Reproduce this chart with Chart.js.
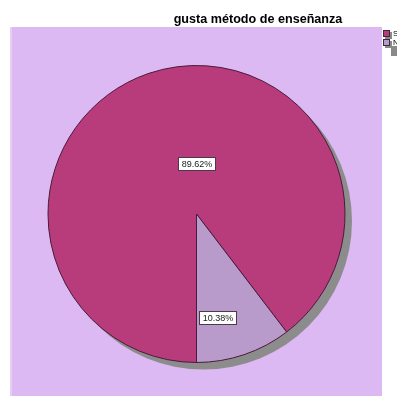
<!DOCTYPE html>
<html>
<head>
<meta charset="utf-8">
<script src="https://cdn.jsdelivr.net/npm/chart.js@4"></script>
<style>
  html, body { margin: 0; padding: 0; background: #ffffff; }
  #wrap { position: relative; width: 397px; height: 396px; overflow: hidden; }
  canvas { display: block; }
</style>
</head>
<body>
<div id="wrap"><canvas id="c" width="397" height="396"></canvas></div>
<script>
// Answers to "gusta método de enseñanza"
const categories = ['Si', 'No'];
const percentages = [89.62, 10.38];
const sliceColors = ['#b83c7b', '#b99bcb'];
const chartTitle = 'gusta método de enseñanza';

// Where each percentage box sits inside its slice:
// fraction of the slice's sweep, and fraction of the radius.
const labelAnchors = [
  { sweep: 0.558, radius: 0.34 },
  { sweep: 0.695, radius: 0.71 }
];

const FONT = '"Liberation Sans", Arial, sans-serif';

// Lilac panel, title and the small legend at the right edge
const framePlugin = {
  id: 'frame',
  beforeDraw(chart) {
    const ctx = chart.ctx;
    ctx.save();
    ctx.fillStyle = '#ffffff';
    ctx.fillRect(0, 0, chart.width, chart.height);
    ctx.fillStyle = '#dcb9f2';
    ctx.fillRect(10, 27, 372, chart.height - 27);
    ctx.fillStyle = '#e6cdf6';
    ctx.fillRect(10, 27, 2, chart.height - 27);

    // title
    ctx.fillStyle = '#000000';
    ctx.font = 'bold 12.6px ' + FONT;
    ctx.textAlign = 'center';
    ctx.textBaseline = 'alphabetic';
    ctx.fillText(chartTitle, 258, 23);

    // legend (runs off the right edge)
    const lx = 383, ly = 30, sz = 7;
    ctx.fillStyle = '#8a8a8a';
    ctx.fillRect(lx + 8, ly + 16, 8, 10);
    categories.forEach((name, i) => {
      const y = ly + i * 9;
      ctx.fillStyle = '#8a8a8a';
      ctx.fillRect(lx + 2, y + 2, sz, sz);
      ctx.fillStyle = sliceColors[i];
      ctx.fillRect(lx, y, sz, sz);
      ctx.strokeStyle = '#3a2a3a';
      ctx.lineWidth = 1;
      ctx.strokeRect(lx + 0.5, y + 0.5, sz - 1, sz - 1);
      ctx.fillStyle = '#000000';
      ctx.font = '8px ' + FONT;
      ctx.textAlign = 'left';
      ctx.textBaseline = 'middle';
      ctx.fillText(name, lx + sz + 3, y + sz / 2);
    });
    ctx.restore();
  },
  // drop shadow behind the pie
  beforeDatasetsDraw(chart) {
    const arc = chart.getDatasetMeta(0).data[0];
    if (!arc) return;
    const { x, y, outerRadius } = arc.getProps(['x', 'y', 'outerRadius'], true);
    const ctx = chart.ctx;
    ctx.save();
    ctx.fillStyle = '#8c8c8c';
    ctx.beginPath();
    ctx.arc(x + 7, y + 7, outerRadius, 0, Math.PI * 2);
    ctx.fill();
    ctx.restore();
  },
  // percentage boxes
  afterDatasetsDraw(chart) {
    const ctx = chart.ctx;
    const meta = chart.getDatasetMeta(0);
    ctx.save();
    ctx.font = '9px ' + FONT;
    ctx.textAlign = 'center';
    ctx.textBaseline = 'middle';
    meta.data.forEach((arc, i) => {
      const p = arc.getProps(['x', 'y', 'startAngle', 'endAngle', 'outerRadius'], true);
      const a = labelAnchors[i];
      const ang = p.startAngle + (p.endAngle - p.startAngle) * a.sweep;
      const r = p.outerRadius * a.radius;
      const cx = p.x + Math.cos(ang) * r;
      const cy = p.y + Math.sin(ang) * r;
      const text = percentages[i].toFixed(2) + '%';
      const w = Math.round(ctx.measureText(text).width) + 6;
      const h = 13;
      const bx = Math.round(cx - w / 2) + 0.5;
      const by = Math.round(cy - h / 2) + 0.5;
      ctx.fillStyle = '#ffffff';
      ctx.fillRect(bx, by, w, h);
      ctx.strokeStyle = '#4a3a4a';
      ctx.lineWidth = 1;
      ctx.strokeRect(bx, by, w, h);
      ctx.fillStyle = '#1a1a1a';
      ctx.fillText(text, bx + w / 2, by + h / 2 + 0.5);
    });
    ctx.restore();
  }
};

new Chart(document.getElementById('c'), {
  type: 'pie',
  data: {
    labels: categories,
    datasets: [{
      data: percentages,
      backgroundColor: sliceColors,
      borderColor: '#4a1a3c',
      borderWidth: 1
    }]
  },
  options: {
    responsive: false,
    animation: false,
    rotation: 180,
    layout: { padding: { left: 47, right: 51, top: 65, bottom: 33 } },
    plugins: {
      legend: { display: false },
      title: { display: false },
      tooltip: { enabled: false }
    }
  },
  plugins: [framePlugin]
});
</script>
</body>
</html>
